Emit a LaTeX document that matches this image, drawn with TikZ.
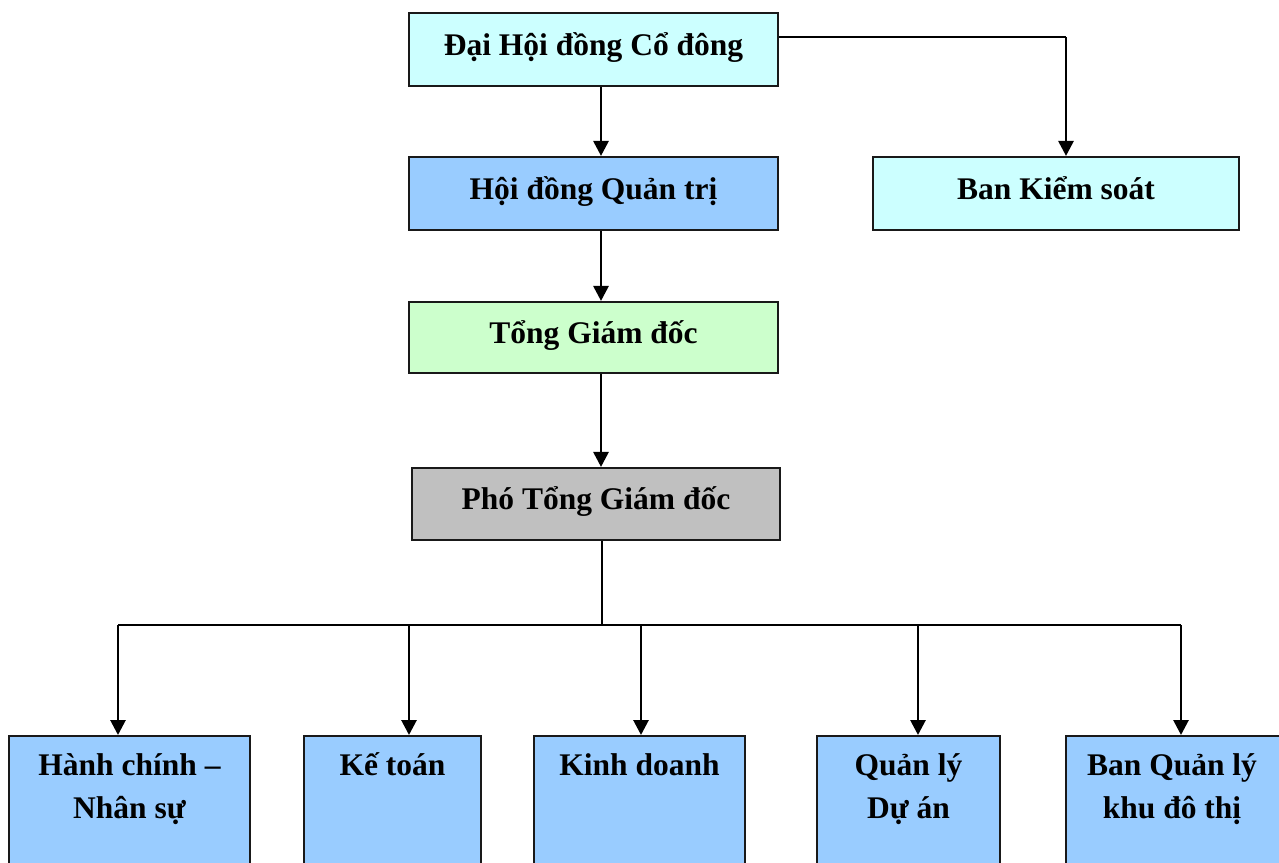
\documentclass[tikz,border=0pt]{standalone}
\usepackage{fontspec}
\setmainfont{Liberation Serif}
\usetikzlibrary{arrows.meta}
\definecolor{cyanfill}{HTML}{CCFFFF}
\definecolor{bluefill}{HTML}{99CCFF}
\definecolor{greenfill}{HTML}{CCFFCC}
\definecolor{grayfill}{HTML}{C0C0C0}
\begin{document}
\begin{tikzpicture}[x=1pt,y=-1pt,
  box/.style={draw=black!90, line width=2.1pt, rectangle, inner sep=0pt},
  toptext/.style={font=\bfseries\fontsize{31.5}{43}\selectfont, text height=11pt, text depth=0pt},
  bottext/.style={font=\bfseries\fontsize{31.5}{43}\selectfont, align=center, inner sep=0pt, anchor=north},
  arr/.style={line width=2.8pt, -{Triangle[width=15pt,length=15pt]}},
  busline/.style={line width=1.8pt},
  thinline/.style={line width=1.3pt}]
\useasboundingbox (0,0) rectangle (1279,862);
\clip (0,0) rectangle (1279,862);
% upper boxes
\node[box, fill=cyanfill, minimum width=369pt, minimum height=73pt, toptext] (dh) at (593.5,49.5) {Đại Hội đồng Cổ đông};
\node[box, fill=bluefill, minimum width=369pt, minimum height=73pt, toptext] (hdqt) at (593.5,193.5) {Hội đồng Quản trị};
\node[box, fill=cyanfill, minimum width=366pt, minimum height=73pt, toptext] (bks) at (1056,193.5) {Ban Kiểm soát};
\node[box, fill=greenfill, minimum width=369pt, minimum height=71pt, toptext] (tgd) at (593.5,337.5) {Tổng Giám đốc};
\node[box, fill=grayfill, minimum width=368pt, minimum height=72pt, toptext] (ptgd) at (596,504) {Phó Tổng Giám đốc};
% lower boxes
\node[box, fill=bluefill, minimum width=241pt, minimum height=150pt, anchor=north] (hc) at (129.5,735) {};
\node[box, fill=bluefill, minimum width=177pt, minimum height=150pt, anchor=north] (kt) at (392.5,735) {};
\node[box, fill=bluefill, minimum width=211pt, minimum height=150pt, anchor=north] (kd) at (639.5,735) {};
\node[box, fill=bluefill, minimum width=183pt, minimum height=150pt, anchor=north] (qlda) at (908.5,735) {};
\node[box, fill=bluefill, minimum width=224pt, minimum height=150pt, anchor=north] (bql) at (1178,735) {};
\node[bottext] (hct) at (129.5,745) {\rule{0pt}{30pt}Hành chính –\\Nhân sự};
\node[bottext] (ktt) at (392.5,745) {\rule{0pt}{30pt}Kế toán};
\node[bottext] (kdt) at (639.5,745) {\rule{0pt}{30pt}Kinh doanh};
\node[bottext] (qldat) at (908.5,745) {\rule{0pt}{30pt}Quản lý\\Dự án};
\node[bottext] (bqlt) at (1172,745) {\rule{0pt}{30pt}Ban Quản lý\\khu đô thị};
% connectors top
\draw[arr] ([xshift=7.5pt]dh.south) -- ([xshift=7.5pt]hdqt.north);
\draw[arr] ([xshift=7.5pt]hdqt.south) -- ([xshift=7.5pt]tgd.north);
\draw[arr] ([xshift=7.5pt]tgd.south) -- ([xshift=7.5pt]tgd.south |- ptgd.north);
\coordinate (kc) at (1066,37);
\draw[busline] ([yshift=12.5pt]dh.east) -- (kc);
\draw[arr] (kc) -- (kc |- bks.north);
% bus
\coordinate (bj) at (602,625);
\coordinate (b1) at (118,625);
\coordinate (b2) at (409,625);
\coordinate (b3) at (641,625);
\coordinate (b4) at (918,625);
\coordinate (b5) at (1181,625);
\draw[thinline] (bj |- ptgd.south) -- (bj);
\draw[busline] (b1) -- (b5);
\draw[arr] (b1) -- (b1 |- hc.north);
\draw[arr] (b2) -- (b2 |- kt.north);
\draw[arr] (b3) -- (b3 |- kd.north);
\draw[arr] (b4) -- (b4 |- qlda.north);
\draw[arr] (b5) -- (b5 |- bql.north);
\end{tikzpicture}
\end{document}
